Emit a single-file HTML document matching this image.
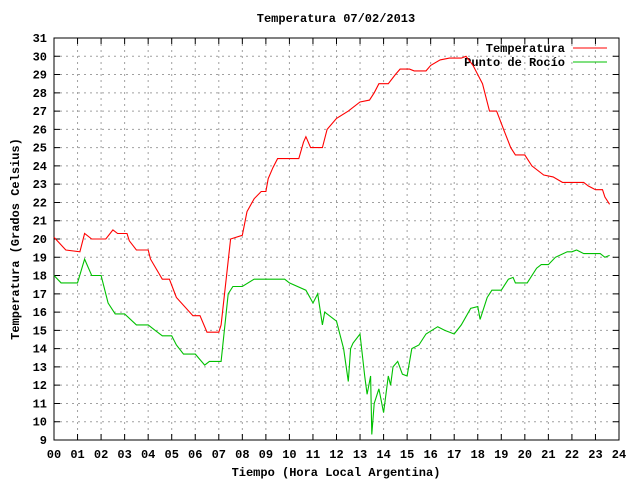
<!DOCTYPE html>
<html><head><meta charset="utf-8"><style>
body{margin:0;background:#fff}
svg text{font-family:"Liberation Mono",monospace;font-size:12px;font-weight:bold;fill:#000}
</style></head><body>
<svg width="640" height="480" xmlns="http://www.w3.org/2000/svg">
<g id="grid"></g>
<g id="axes"></g>
<text x="336" y="22" text-anchor="middle">Temperatura 07/02/2013</text>
<text x="336" y="476" text-anchor="middle">Tiempo (Hora Local Argentina)</text>
<text transform="translate(19,239) rotate(-90)" text-anchor="middle">Temperatura (Grados Celsius)</text>
<g>
<text x="565" y="52" text-anchor="end">Temperatura</text>
<line x1="573" y1="48" x2="607" y2="48" stroke="#ff0000"/>
<text x="565" y="66" text-anchor="end">Punto de Rocío</text>
<line x1="573" y1="62" x2="607" y2="62" stroke="#00c000"/>
</g>
<g id="series"></g>
</svg>
<script>
const xTicks=[0,1,2,3,4,5,6,7,8,9,10,11,12,13,14,15,16,17,18,19,20,21,22,23,24];
const yTicks=[9,10,11,12,13,14,15,16,17,18,19,20,21,22,23,24,25,26,27,28,29,30,31];
const tempTimes=[0,0.5,1.1,1.3,1.6,2.2,2.5,2.7,3.1,3.2,3.5,4.0,4.1,4.6,4.9,5.2,5.9,6.2,6.5,7.0,7.1,7.5,8.0,8.2,8.5,8.8,9.0,9.1,9.3,9.5,10.4,10.6,10.7,10.9,11.4,11.6,12.0,12.5,13.0,13.4,13.6,13.8,14.2,14.5,14.7,15.1,15.3,15.8,16.0,16.4,16.8,17.3,17.5,17.8,18.2,18.5,18.8,19.1,19.4,19.6,20.0,20.3,20.8,21.2,21.6,22.5,22.7,23.0,23.3,23.4,23.6];
const tempValues=[20.1,19.4,19.3,20.3,20.0,20.0,20.5,20.3,20.3,19.9,19.4,19.4,18.9,17.8,17.8,16.8,15.8,15.8,14.9,14.9,15.3,20.0,20.2,21.5,22.2,22.6,22.6,23.3,23.9,24.4,24.4,25.3,25.6,25.0,25.0,26.0,26.6,27.0,27.5,27.6,28.0,28.5,28.5,29.0,29.3,29.3,29.2,29.2,29.5,29.8,29.9,29.9,30.0,29.5,28.5,27.0,27.0,26.0,25.0,24.6,24.6,24.0,23.5,23.4,23.1,23.1,22.9,22.7,22.7,22.3,21.9];
const dewTimes=[0,0.3,1.0,1.3,1.6,2.0,2.3,2.6,3.0,3.5,4.0,4.3,4.6,5.0,5.2,5.5,6.0,6.2,6.4,6.6,7.1,7.4,7.6,8.0,8.5,9.8,10.0,10.7,11.0,11.2,11.4,11.5,12.0,12.3,12.5,12.6,12.7,13.0,13.2,13.3,13.45,13.5,13.6,13.8,14.0,14.2,14.3,14.4,14.6,14.8,15.0,15.2,15.5,15.8,16.3,16.6,17.0,17.3,17.7,18.0,18.1,18.4,18.6,19.0,19.3,19.5,19.6,20.1,20.5,20.7,21.0,21.3,21.8,22.0,22.2,22.5,23.2,23.4,23.6];
const dewValues=[18.0,17.6,17.6,18.9,18.0,18.0,16.5,15.9,15.9,15.3,15.3,15.0,14.7,14.7,14.2,13.7,13.7,13.4,13.1,13.3,13.3,17.0,17.4,17.4,17.8,17.8,17.6,17.2,16.5,17.0,15.3,16.0,15.5,14.0,12.2,14.0,14.3,14.8,12.5,11.5,12.5,9.3,11.0,11.8,10.5,12.5,12.0,13.0,13.3,12.6,12.5,14.0,14.2,14.8,15.2,15.0,14.8,15.3,16.2,16.3,15.6,16.8,17.2,17.2,17.8,17.9,17.6,17.6,18.4,18.6,18.6,19.0,19.3,19.3,19.4,19.2,19.2,19.0,19.1];
const NS="http://www.w3.org/2000/svg";
const L=54,R=619,T=38,B=440;
const xs=h=>L+(h-0)/24*(R-L);
const ys=v=>B-(v-9)/22*(B-T);
function mk(tag,attrs,parent){const e=document.createElementNS(NS,tag);for(const k in attrs)e.setAttribute(k,attrs[k]);parent.appendChild(e);return e;}
const grid=document.getElementById('grid'),axes=document.getElementById('axes'),series=document.getElementById('series');
xTicks.forEach(t=>{const x=xs(t);
 if(t>0&&t<24){const g=mk('line',{x1:x,y1:T,x2:x,y2:B,stroke:'#a0a0a0','stroke-dasharray':'2,4'},grid);
 
 }
 const tk=mk('path',{d:`M${x},${B}v-6M${x},${T}v6`,stroke:'#000'},axes);
 
 
 const lb=mk('text',{x:x,y:B+18,'text-anchor':'middle'},axes);lb.textContent=String(t).padStart(2,'0');
 
 
});
yTicks.forEach(t=>{const y=ys(t);
 if(t>9&&t<31){const g=mk('line',{x1:L,y1:y,x2:R,y2:y,stroke:'#a0a0a0','stroke-dasharray':'2,4'},grid);
 
 }
 const tk=mk('path',{d:`M${L},${y}h6M${R},${y}h-6`,stroke:'#000'},axes);
 
 
 const lb=mk('text',{x:L-7,y:y+4,'text-anchor':'end'},axes);lb.textContent=t;
 
 
});
const fr=mk('rect',{x:L,y:T,width:R-L,height:B-T,fill:'none',stroke:'#000'},axes);


function line(ts,vs,c,name){const p=ts.map((t,i)=>xs(t).toFixed(1)+','+ys(vs[i]).toFixed(1)).join(' ');
 const e=mk('polyline',{points:p,fill:'none',stroke:c,'stroke-width':1.1},series);
 
 }
line(dewTimes,dewValues,'#00c000','dew-point-line');
line(tempTimes,tempValues,'#ff0000','temperature-line');
</script>
</body></html>
